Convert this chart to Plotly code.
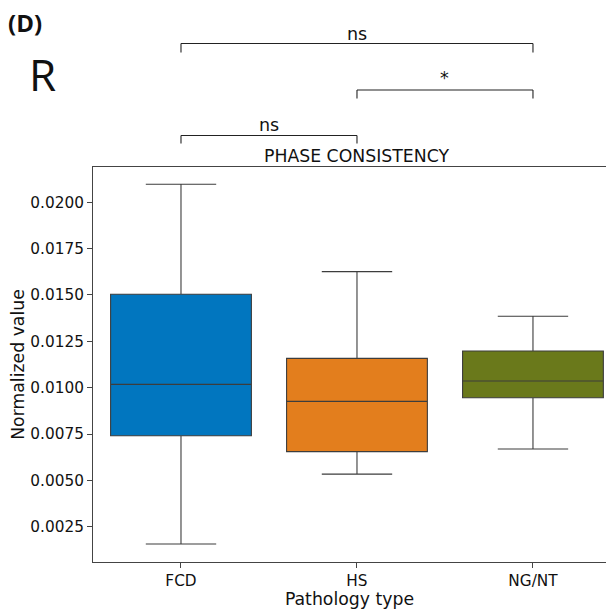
import plotly.graph_objects as go

categories = ["FCD", "HS", "NG/NT"]
lower_whisker = [0.00157, 0.00534, 0.00669]
q1_values = [0.00741, 0.00655, 0.00946]
medians = [0.01018, 0.00926, 0.01036]
q3_values = [0.01504, 0.01158, 0.01198]
upper_whisker = [0.02097, 0.01626, 0.01385]
colors = ["#0176BF", "#E37E1D", "#6A791B"]
y_ticks = [0.0025, 0.0050, 0.0075, 0.0100, 0.0125, 0.0150, 0.0175, 0.0200]

# significance brackets: (start category index, end category index, label)
pairs = [(0, 2, "ns"), (1, 2, "*"), (0, 1, "ns")]

W, H = 606, 609
ML, MR, MT, MB = 93, 0, 167, 47
PW = W - ML - MR
PH = H - MT - MB

def py(pix):
    return (H - MB - pix) / PH

def px(pix):
    return (pix - ML) / PW

fig = go.Figure()
for i, c in enumerate(categories):
    fig.add_trace(go.Box(
        x=[c], q1=[q1_values[i]], median=[medians[i]], q3=[q3_values[i]],
        lowerfence=[lower_whisker[i]], upperfence=[upper_whisker[i]],
        fillcolor=colors[i], line=dict(color="#3d3d3d", width=1.1),
        width=0.8, whiskerwidth=0.5, showlegend=False, boxpoints=False,
        hoverinfo="skip",
    ))

# bracket geometry in pixels
bracket_rows = [(43.5, 52.5, 34), (90, 98.5, 78), (135.5, 143.5, 125)]
shapes = []
annotations = []
for (a, b, lab), (yl, yt, ytxt) in zip(pairs, bracket_rows):
    xa, xb = categories[a], categories[b]
    for path in [(xa, yt, xa, yl), (xa, yl, xb, yl), (xb, yl, xb, yt)]:
        shapes.append(dict(type="line", xref="x", yref="paper",
                           x0=path[0], y0=py(path[1]), x1=path[2], y1=py(path[3]),
                           line=dict(color="#222222", width=1.1)))
    annotations.append(dict(x=(a + b) / 2, xref="x", y=py(ytxt), yref="paper",
                            text=lab, showarrow=False, xanchor="center", yanchor="middle",
                            font=dict(size=17.5, color="#111111", family="DejaVu Sans")))

annotations += [
    dict(x=px(6), y=py(22), xref="paper", yref="paper", xanchor="left", yanchor="middle",
         text="<b>(D)</b>", showarrow=False,
         font=dict(size=24, color="#111111", family="Open Sans")),
    dict(x=px(27), y=py(74), xref="paper", yref="paper", xanchor="left", yanchor="middle",
         text="R", showarrow=False,
         font=dict(size=44, color="#111111", family="Open Sans")),
    dict(x=1, xref="x", y=py(156), yref="paper", text="PHASE CONSISTENCY",
         showarrow=False, xanchor="center", yanchor="middle",
         font=dict(size=17.3, color="#111111", family="DejaVu Sans")),
]

fig.update_layout(
    width=W, height=H,
    margin=dict(l=ML, r=MR, t=MT, b=MB, pad=0),
    paper_bgcolor="white", plot_bgcolor="white",
    boxmode="overlay",
    shapes=shapes, annotations=annotations,
    font=dict(family="DejaVu Sans", color="#111111"),
    xaxis=dict(
        type="category", categoryorder="array", categoryarray=categories,
        range=[-0.5, 2.415], showline=True, linecolor="#444444", linewidth=1.1,
        mirror=True, ticks="outside", ticklen=5, tickcolor="#444444",
        tickfont=dict(size=15.3), showgrid=False, zeroline=False,
        title=dict(text="Pathology type", font=dict(size=17.3), standoff=0),
    ),
    yaxis=dict(
        range=[0.0006, 0.0219], showline=True, linecolor="#444444", linewidth=1.1,
        mirror=False, ticks="outside", ticklen=5, tickcolor="#444444",
        tickvals=y_ticks, tickformat=".4f", tickfont=dict(size=15.3),
        showgrid=False, zeroline=False,
        title=dict(text="Normalized value", font=dict(size=17.3), standoff=1),
    ),
)

fig.write_html("out.html")
